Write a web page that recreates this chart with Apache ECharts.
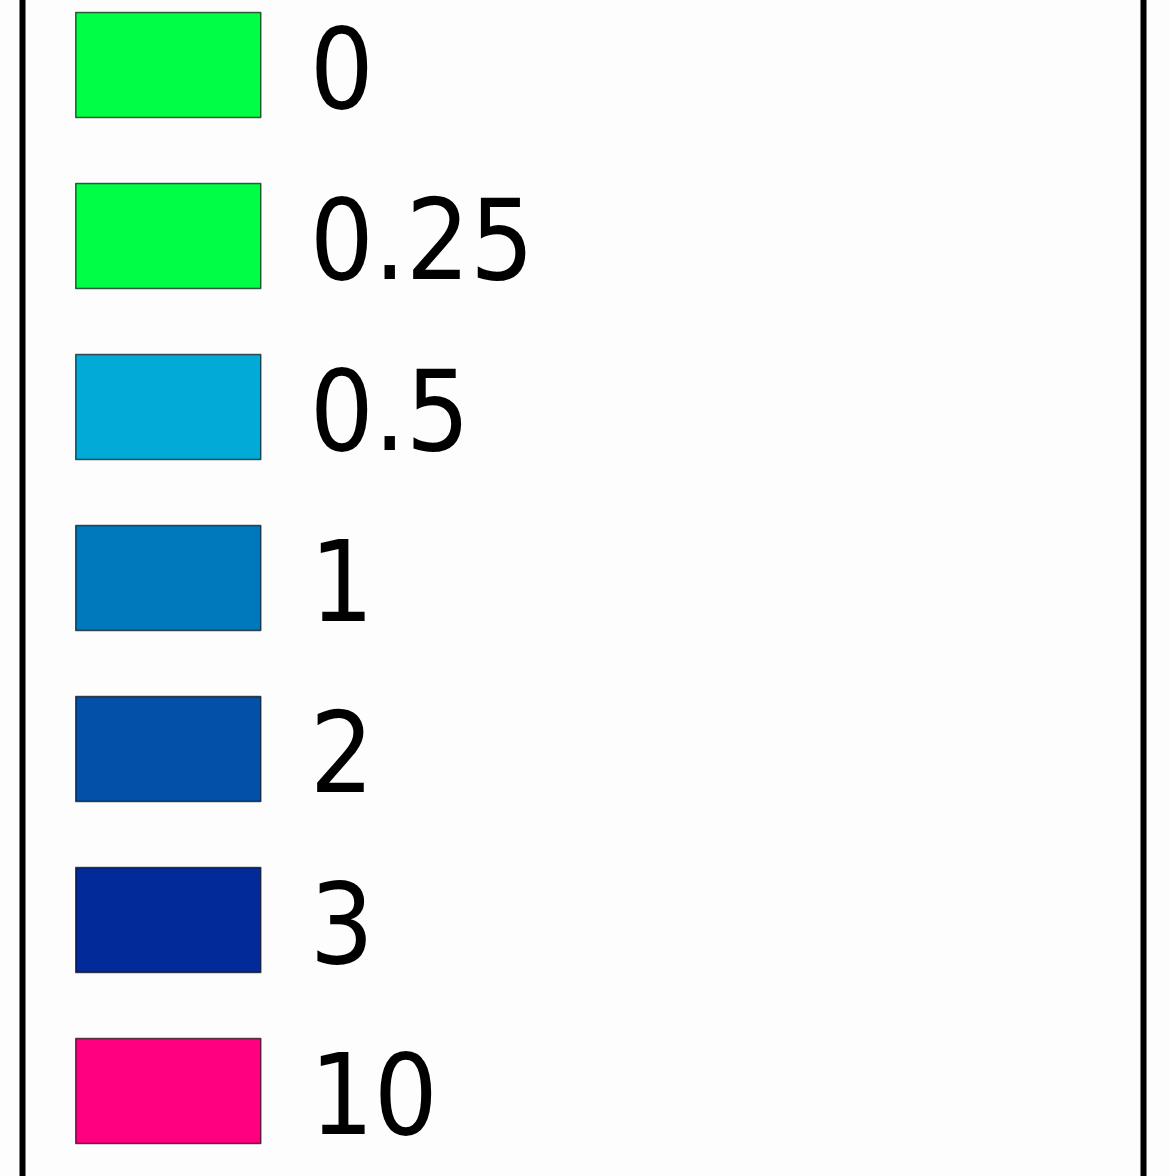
<!DOCTYPE html>
<html>
<head>
<meta charset="utf-8">
<script src="https://cdn.jsdelivr.net/npm/echarts@6/dist/echarts.min.js"></script>
<style>
html,body{margin:0;padding:0;background:#fdfdfd;}
#chart{width:1170px;height:1176px;}
</style>
</head>
<body>
<div id="chart"></div>
<script>
var classLabels = ['0', '0.25', '0.5', '1', '2', '3', '10'];
var classColors = ['#00ff44', '#00ff44', '#02aad8', '#0078bc', '#0350a8', '#022a98', '#ff0080'];

var chart = echarts.init(document.getElementById('chart'), null, {renderer: 'canvas'});
var option = {
  backgroundColor: '#fdfdfd',
  animation: false,
  graphic: [{
    type: 'rect',
    shape: {x: 22.5, y: -20, width: 1121, height: 1220},
    style: {fill: 'none', stroke: '#000', lineWidth: 6},
    silent: true
  }],
  legend: {
    orient: 'vertical',
    left: 75,
    top: -5,
    height: 1400,
    padding: 0,
    icon: 'rect',
    itemWidth: 185,
    itemHeight: 105,
    itemGap: 31,
    selectedMode: false,
    itemStyle: {borderColor: 'rgba(0,0,0,0.65)', borderWidth: 1.5},
    formatter: '{t|{name}}',
    textStyle: {
      rich: {
        t: {
          fontFamily: "'DejaVu Sans Condensed', 'DejaVu Sans'",
          fontSize: 112,
          lineHeight: 112,
          color: '#000',
          padding: [28, 0, 0, 44]
        }
      }
    },
    data: classLabels
  },
  series: [{
    type: 'pie',
    center: [-500, -500],
    radius: 10,
    silent: true,
    label: {show: false},
    labelLine: {show: false},
    data: classLabels.map(function (l, i) {
      return {name: l, value: 1, itemStyle: {color: classColors[i]}};
    })
  }]
};
chart.setOption(option);
</script>
</body>
</html>
